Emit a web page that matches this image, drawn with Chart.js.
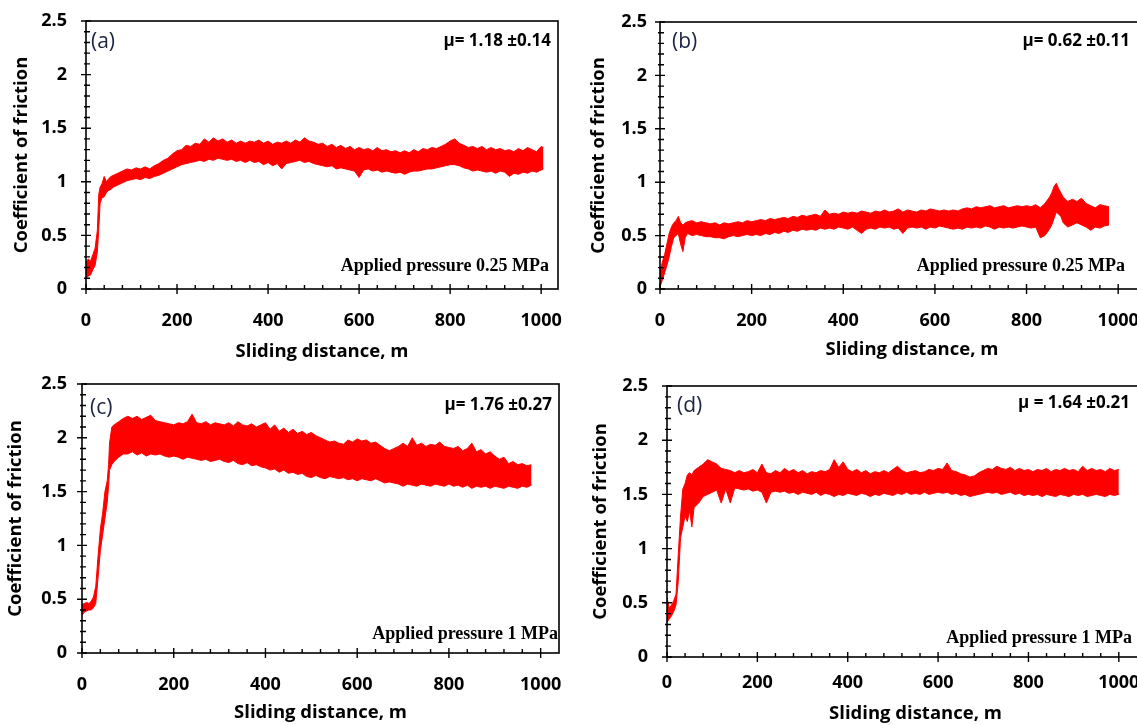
<!DOCTYPE html>
<html>
<head>
<meta charset="utf-8">
<script src="https://cdn.jsdelivr.net/npm/chart.js@4/dist/chart.umd.min.js"></script>
<style>
html,body{margin:0;padding:0;background:#fff;overflow:hidden;width:1137px;height:725px;}
canvas{position:absolute;}
</style>
</head>
<body>
<canvas id="ca" width="570" height="365" style="left:0;top:0"></canvas>
<canvas id="cb" width="604" height="365" style="left:570px;top:0"></canvas>
<canvas id="cc" width="570" height="360" style="left:0;top:365px"></canvas>
<canvas id="cd" width="604" height="360" style="left:570px;top:365px"></canvas>
<script>
// ---------- tick labels ----------
const xTickValues = [0, 200, 400, 600, 800, 1000];
const yTickValues = [0, 0.5, 1, 1.5, 2, 2.5];

// ---------- panel (a): 0.25 MPa ----------
const distA = [0,5,10,15,20,25,28,31,35,40,45,50,55,60,70,80,90,100,110,120,130,140,150,160,170,180,190,200,210,220,230,240,250,260,270,280,290,300,310,320,330,340,350,360,370,380,390,400,410,420,430,440,450,460,470,480,490,500,510,520,530,540,550,560,570,580,590,600,610,620,630,640,650,660,670,680,690,700,710,720,730,740,750,760,770,780,790,800,810,820,830,840,850,860,870,880,890,900,910,920,930,940,950,960,970,980,990,1000,1005];
const hiA = [0.25,0.28,0.26,0.32,0.38,0.55,0.88,0.95,0.98,1.05,1.00,1.03,1.05,1.06,1.08,1.10,1.12,1.11,1.13,1.12,1.14,1.12,1.15,1.17,1.20,1.22,1.26,1.29,1.30,1.34,1.33,1.36,1.35,1.40,1.37,1.41,1.38,1.40,1.37,1.39,1.36,1.38,1.36,1.38,1.37,1.39,1.36,1.38,1.35,1.37,1.36,1.38,1.36,1.39,1.37,1.41,1.38,1.37,1.35,1.36,1.33,1.35,1.32,1.34,1.31,1.33,1.30,1.32,1.30,1.31,1.29,1.32,1.29,1.30,1.28,1.29,1.27,1.29,1.27,1.30,1.28,1.31,1.30,1.32,1.31,1.33,1.35,1.38,1.40,1.36,1.34,1.32,1.33,1.31,1.33,1.30,1.32,1.30,1.31,1.29,1.30,1.28,1.31,1.29,1.32,1.30,1.28,1.33,1.32];
const loA = [0.10,0.12,0.13,0.18,0.22,0.35,0.55,0.80,0.85,0.86,0.90,0.92,0.93,0.95,0.97,0.99,1.01,1.02,1.03,1.02,1.04,1.03,1.05,1.06,1.08,1.10,1.12,1.14,1.16,1.17,1.18,1.19,1.20,1.19,1.21,1.20,1.22,1.21,1.20,1.21,1.19,1.20,1.18,1.20,1.18,1.19,1.16,1.18,1.15,1.17,1.12,1.17,1.18,1.19,1.20,1.18,1.19,1.17,1.16,1.15,1.14,1.15,1.12,1.13,1.12,1.11,1.10,1.04,1.11,1.12,1.10,1.11,1.09,1.10,1.09,1.08,1.09,1.07,1.09,1.10,1.10,1.11,1.12,1.12,1.13,1.14,1.15,1.16,1.16,1.15,1.13,1.12,1.10,1.11,1.10,1.09,1.10,1.08,1.10,1.09,1.05,1.08,1.07,1.09,1.08,1.10,1.09,1.11,1.12];

// ---------- panel (b): 0.25 MPa ----------
const distB = [0,5,10,15,20,25,30,35,40,45,50,55,60,70,80,90,100,110,120,130,140,150,160,170,180,190,200,210,220,230,240,250,260,270,280,290,300,310,320,330,340,350,360,370,380,390,400,410,420,430,440,450,460,470,480,490,500,510,520,530,540,550,560,570,580,590,600,610,620,630,640,650,660,670,680,690,700,710,720,730,740,750,760,770,780,790,800,810,820,830,840,850,855,860,865,870,875,880,890,900,910,920,930,940,950,960,970,980];
const hiB = [0.15,0.25,0.32,0.42,0.52,0.58,0.62,0.64,0.68,0.62,0.60,0.62,0.63,0.64,0.62,0.63,0.62,0.61,0.62,0.60,0.62,0.61,0.62,0.63,0.62,0.64,0.63,0.64,0.65,0.64,0.66,0.65,0.66,0.67,0.66,0.68,0.67,0.69,0.68,0.69,0.70,0.68,0.74,0.70,0.71,0.70,0.72,0.71,0.72,0.71,0.73,0.72,0.71,0.73,0.72,0.74,0.72,0.73,0.75,0.72,0.74,0.73,0.72,0.74,0.73,0.75,0.74,0.73,0.74,0.73,0.74,0.73,0.75,0.76,0.75,0.77,0.76,0.77,0.78,0.76,0.77,0.78,0.76,0.77,0.78,0.77,0.78,0.77,0.79,0.76,0.80,0.86,0.90,0.96,0.99,0.94,0.90,0.86,0.82,0.84,0.82,0.85,0.80,0.78,0.76,0.79,0.78,0.77];
const loB = [0.02,0.08,0.15,0.22,0.30,0.40,0.48,0.50,0.52,0.42,0.35,0.48,0.52,0.50,0.51,0.50,0.49,0.49,0.48,0.48,0.47,0.49,0.50,0.49,0.50,0.51,0.50,0.51,0.50,0.52,0.51,0.53,0.52,0.54,0.53,0.55,0.54,0.56,0.55,0.56,0.55,0.57,0.56,0.57,0.56,0.58,0.57,0.56,0.58,0.55,0.52,0.56,0.57,0.56,0.58,0.57,0.58,0.56,0.57,0.52,0.57,0.58,0.57,0.58,0.56,0.58,0.57,0.59,0.58,0.57,0.56,0.57,0.56,0.58,0.57,0.58,0.57,0.59,0.58,0.56,0.58,0.57,0.58,0.57,0.58,0.59,0.58,0.57,0.58,0.48,0.50,0.56,0.60,0.66,0.72,0.70,0.68,0.62,0.58,0.60,0.62,0.60,0.58,0.55,0.58,0.57,0.59,0.60];

// ---------- panel (c): 1 MPa ----------
const distC = [0,5,10,15,20,25,30,35,40,45,50,55,58,60,65,70,80,90,100,110,120,130,140,150,160,170,180,190,200,210,220,230,240,250,260,270,280,290,300,310,320,330,340,350,360,370,380,390,400,410,420,430,440,450,460,470,480,490,500,510,520,530,540,550,560,570,580,590,600,610,620,630,640,650,660,670,680,690,700,710,720,730,740,750,760,770,780,790,800,810,820,830,840,850,860,870,880,890,900,910,920,930,940,950,960,970,980];
const hiC = [0.45,0.46,0.47,0.46,0.48,0.52,0.62,0.90,1.15,1.30,1.50,1.60,1.75,1.95,2.10,2.12,2.15,2.18,2.20,2.18,2.20,2.17,2.19,2.21,2.16,2.15,2.14,2.13,2.12,2.14,2.13,2.15,2.22,2.14,2.13,2.15,2.12,2.14,2.13,2.12,2.14,2.11,2.15,2.12,2.11,2.13,2.10,2.12,2.14,2.08,2.12,2.06,2.09,2.05,2.08,2.04,2.06,2.03,2.05,2.02,2.00,1.98,1.96,1.97,1.95,1.94,1.98,1.96,1.99,1.97,1.98,1.95,1.96,1.93,1.90,1.88,1.90,1.92,1.95,1.92,2.00,1.93,1.95,1.92,1.94,1.93,1.96,1.92,1.91,1.90,1.92,1.88,1.90,1.95,1.87,1.89,1.85,1.87,1.83,1.80,1.82,1.76,1.78,1.75,1.76,1.74,1.75];
const loC = [0.35,0.38,0.39,0.40,0.40,0.42,0.46,0.70,0.95,1.10,1.25,1.40,1.55,1.70,1.75,1.78,1.82,1.85,1.85,1.87,1.84,1.86,1.83,1.85,1.84,1.85,1.83,1.82,1.83,1.82,1.80,1.82,1.81,1.80,1.79,1.80,1.78,1.79,1.80,1.78,1.77,1.79,1.76,1.75,1.77,1.74,1.75,1.73,1.72,1.70,1.71,1.68,1.70,1.67,1.68,1.66,1.67,1.64,1.63,1.65,1.63,1.62,1.64,1.63,1.62,1.63,1.61,1.62,1.60,1.62,1.61,1.60,1.62,1.60,1.58,1.59,1.58,1.57,1.55,1.57,1.56,1.55,1.57,1.56,1.55,1.57,1.56,1.55,1.57,1.55,1.56,1.54,1.56,1.53,1.55,1.54,1.55,1.53,1.55,1.54,1.53,1.55,1.54,1.53,1.55,1.54,1.56];

// ---------- panel (d): 1 MPa ----------
const distD = [0,5,10,15,20,25,30,35,40,45,50,55,60,70,80,90,100,110,120,130,140,150,160,170,180,190,200,210,220,230,240,250,260,270,280,290,300,310,320,330,340,350,360,370,380,390,400,410,420,430,440,450,460,470,480,490,500,510,520,530,540,550,560,570,580,590,600,610,620,630,640,650,660,670,680,690,700,710,720,730,740,750,760,770,780,790,800,810,820,830,840,850,860,870,880,890,900,910,920,930,940,950,960,970,980,990,1000];
const hiD = [0.55,0.45,0.48,0.52,0.58,0.95,1.30,1.55,1.60,1.68,1.70,1.68,1.72,1.75,1.78,1.82,1.80,1.78,1.74,1.73,1.72,1.70,1.72,1.70,1.71,1.73,1.70,1.78,1.70,1.69,1.72,1.70,1.74,1.71,1.73,1.70,1.72,1.69,1.71,1.70,1.72,1.71,1.73,1.82,1.75,1.80,1.73,1.71,1.73,1.70,1.72,1.69,1.71,1.70,1.72,1.70,1.73,1.76,1.72,1.70,1.71,1.72,1.70,1.71,1.73,1.72,1.74,1.73,1.79,1.72,1.71,1.69,1.68,1.66,1.67,1.70,1.72,1.74,1.73,1.76,1.74,1.73,1.75,1.72,1.74,1.72,1.73,1.71,1.73,1.72,1.74,1.71,1.73,1.72,1.74,1.72,1.73,1.71,1.76,1.72,1.74,1.72,1.73,1.71,1.74,1.72,1.73];
const loD = [0.32,0.35,0.38,0.42,0.48,0.70,1.10,1.20,1.30,1.25,1.35,1.20,1.38,1.42,1.48,1.50,1.52,1.54,1.42,1.55,1.42,1.56,1.55,1.54,1.55,1.53,1.54,1.52,1.42,1.52,1.53,1.52,1.53,1.51,1.52,1.50,1.52,1.51,1.50,1.52,1.49,1.51,1.50,1.48,1.50,1.49,1.51,1.50,1.49,1.51,1.50,1.48,1.50,1.49,1.51,1.50,1.49,1.51,1.50,1.52,1.50,1.51,1.50,1.52,1.50,1.51,1.52,1.51,1.52,1.50,1.51,1.49,1.50,1.48,1.49,1.50,1.51,1.52,1.51,1.52,1.50,1.51,1.52,1.50,1.51,1.49,1.50,1.49,1.50,1.48,1.50,1.49,1.48,1.50,1.49,1.48,1.50,1.49,1.50,1.48,1.49,1.50,1.49,1.48,1.50,1.49,1.50];

const RED = '#ff0000';
const TICK_FONT = {family: '"Open Sans"', weight: 'bold', size: 18};
const TITLE_FONT = {family: '"Open Sans"', weight: 'bold', size: 18.5};

const pts = (d, v) => d.map((x, i) => ({x: x, y: v[i]}));

const framePlugin = {
  id: 'frame',
  afterDraw(chart, args, o) {
    const {ctx, chartArea: a, scales: {x, y}} = chart;
    ctx.save();
    ctx.strokeStyle = '#000';
    ctx.lineWidth = 1.6;
    ctx.strokeRect(a.left, a.top, a.right - a.left, a.bottom - a.top);
    ctx.lineWidth = 1.4;
    ctx.beginPath();
    for (let i = 0; i <= 25; i++) {
      const px = x.getPixelForValue(i * 40);
      if (i % 5 === 0) { ctx.moveTo(px, a.bottom + 5); ctx.lineTo(px, a.bottom - 5); }
      else { ctx.moveTo(px, a.bottom); ctx.lineTo(px, a.bottom - 4); }
    }
    for (let i = 0; i <= 25; i++) {
      const py = y.getPixelForValue(i / 10);
      if (i % 5 === 0) { ctx.moveTo(a.left - 5, py); ctx.lineTo(a.left + 5, py); }
      else { ctx.moveTo(a.left - 2, py); ctx.lineTo(a.left + 4, py); }
    }
    ctx.stroke();
    // annotations
    ctx.textBaseline = 'middle';
    ctx.fillStyle = '#1b2440';
    ctx.textAlign = 'left';
    ctx.font = '21px "Open Sans"';
    ctx.fillText(o.letter, o.lx, o.ly);
    ctx.fillStyle = '#000';
    ctx.textAlign = 'right';
    ctx.font = 'bold 17px "Open Sans"';
    ctx.fillText(o.mu, o.mx, o.my);
    ctx.font = 'bold 18px "Liberation Serif"';
    ctx.fillText(o.pres, o.px, o.py);
    ctx.restore();
  }
};

function makeChart(id, d, hi, lo, cfg) {
  new Chart(document.getElementById(id), {
    type: 'line',
    data: {
      datasets: [
        {data: pts(d, lo), borderColor: RED, backgroundColor: RED, borderWidth: 1, pointRadius: 0, tension: 0, fill: false},
        {data: pts(d, hi), borderColor: RED, backgroundColor: RED, borderWidth: 1, pointRadius: 0, tension: 0, fill: '-1'}
      ]
    },
    options: {
      responsive: false,
      animation: false,
      devicePixelRatio: 1,
      layout: {padding: {top: cfg.top, right: cfg.right, left: 0, bottom: 0}},
      plugins: {legend: {display: false}, tooltip: {enabled: false}, frame: cfg.ann},
      scales: {
        x: {
          type: 'linear', min: 0, max: cfg.xmax,
          grid: {display: false, drawTicks: false},
          border: {display: false},
          afterBuildTicks: s => { s.ticks = xTickValues.map(v => ({value: v})); },
          afterFit: s => { s.height = cfg.xh; s.paddingLeft = 0; s.paddingRight = 0; },
          ticks: {color: '#000', font: TICK_FONT, padding: cfg.xpad, maxRotation: 0, autoSkip: false, callback: v => String(v)},
          title: {display: true, text: 'Sliding distance, m', color: '#000', font: TITLE_FONT, padding: {top: 0, bottom: cfg.xtpad}}
        },
        y: {
          type: 'linear', min: 0, max: 2.5,
          grid: {display: false, drawTicks: false},
          border: {display: false},
          afterBuildTicks: s => { s.ticks = yTickValues.map(v => ({value: v})); },
          afterFit: s => { s.width = cfg.yw; s.paddingTop = 0; s.paddingBottom = 0; },
          ticks: {color: '#000', font: TICK_FONT, padding: cfg.ypad, callback: v => String(v)},
          title: {display: true, text: 'Coefficient of friction', color: '#000', font: TITLE_FONT, padding: {top: cfg.ytpad, bottom: 0}}
        }
      }
    },
    plugins: [framePlugin]
  });
}

makeChart('ca', distA, hiA, loA, {top: 21, right: 12, xmax: 1037, xh: 76, yw: 86, xpad: 21, ypad: 19, xtpad: 2, ytpad: 11,
  ann: {letter: '(a)', lx: 91, ly: 42, mu: 'μ= 1.18 ±0.14', mx: 551, my: 41, pres: 'Applied pressure 0.25 MPa', px: 549, py: 266}});
makeChart('cb', distB, hiB, loB, {top: 22, right: 10, xmax: 1100, xh: 76, yw: 90, xpad: 21, ypad: 13, xtpad: 4, ytpad: 18,
  ann: {letter: '(b)', lx: 102, ly: 42, mu: 'μ= 0.62 ±0.11', mx: 560, my: 41, pres: 'Applied pressure 0.25 MPa', px: 555, py: 266}});
makeChart('cc', distC, hiC, loC, {top: 19, right: 11, xmax: 1040, xh: 72, yw: 82, xpad: 21, ypad: 15, xtpad: 1, ytpad: 5,
  ann: {letter: '(c)', lx: 90, ly: 43, mu: 'μ= 1.76 ±0.27', mx: 552, my: 40, pres: 'Applied pressure 1 MPa', px: 558, py: 269}});
makeChart('cd', distD, hiD, loD, {top: 21, right: 10, xmax: 1100, xh: 68, yw: 97, xpad: 15, ypad: 19, xtpad: 0, ytpad: 20,
  ann: {letter: '(d)', lx: 107, ly: 41, mu: 'μ = 1.64 ±0.21', mx: 560, my: 38, pres: 'Applied pressure 1 MPa', px: 562, py: 273}});
</script>
</body>
</html>
